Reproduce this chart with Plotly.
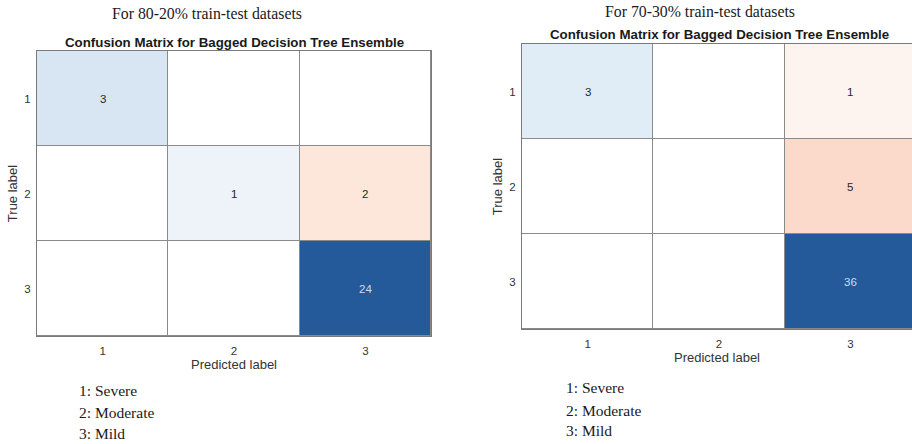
import plotly.graph_objects as go

# ---- data ----
classes = [1, 2, 3]
class_names = ["Severe", "Moderate", "Mild"]
cm_80_20 = [[3, 0, 0],
            [0, 1, 2],
            [0, 0, 24]]
cm_70_30 = [[3, 0, 1],
            [0, 0, 5],
            [0, 0, 36]]
panel_titles = ["For 80-20% train-test datasets", "For 70-30% train-test datasets"]
chart_title = "Confusion Matrix for Bagged Decision Tree Ensemble"

# diverging scale: off-diagonal (orange/red) <- 0 -> diagonal (blue)
colorscale = [
    [0.0, "#a5301f"],
    [0.4306, "#fcdacb"],
    [0.4583, "#fde6da"],
    [0.4861, "#fef4ef"],
    [0.5, "#ffffff"],
    [0.5208, "#eef3f9"],
    [0.5417, "#e0edf7"],
    [0.5625, "#d8e5f3"],
    [1.0, "#245a9a"],
]

W, H = 912, 444
def px_x(p):
    return p / W
def px_y(p):
    return 1 - p / H

fig = go.Figure()
annotations = []
panels = [
    dict(cm=cm_80_20, xd=[px_x(37), px_x(431)], yd=[px_y(336), px_y(51)], xr=[0.5, 3.5],
         xa="x", ya="y", sup_y=13, sup_x=207, title_y=42, cx=234, legend_x=77, legend_y=[390, 412, 433]),
    dict(cm=cm_70_30, xd=[px_x(522), 1.0], yd=[px_y(329), px_y(44)], xr=[0.5, 3.5 - 4 / 131],
         xa="x2", ya="y2", sup_y=12, sup_x=700, title_y=35, cx=719, legend_x=564, legend_y=[387, 410, 430]),
]

for k, p in enumerate(panels):
    cm = p["cm"]
    vmax = max(max(r) for r in cm)
    z = [[(cm[i][j] / vmax) * (1 if i == j else -1) for j in range(3)] for i in range(3)]
    fig.add_trace(go.Heatmap(
        x=classes, y=classes, z=z, zmin=-1, zmax=1, colorscale=colorscale,
        showscale=False, xgap=1, ygap=1, hoverinfo="skip",
        xaxis=p["xa"], yaxis=p["ya"],
    ))
    for i in range(3):
        for j in range(3):
            v = cm[i][j]
            if v == 0:
                continue
            light = abs(z[i][j]) > 0.5
            annotations.append(dict(
                x=classes[j], y=classes[i], xref=p["xa"], yref=p["ya"],
                text=str(v), showarrow=False,
                font=dict(family="Liberation Sans, Arial", size=11.5,
                          color="#c8dcf0" if light else "#262626"),
            ))
    sfx = "" if k == 0 else "2"
    fig.layout["xaxis" + sfx] = dict(
        domain=p["xd"], range=p["xr"], anchor=p["ya"],
        tickvals=classes, ticktext=[str(c) for c in classes],
        showgrid=False, zeroline=False, showline=True, mirror=True,
        linecolor="#7a7a7a", linewidth=1, ticks="", ticklabelstandoff=4,
        tickfont=dict(family="Liberation Sans, Arial", size=11.5, color="#333333"),
        title=dict(text="Predicted label", standoff=4,
                   font=dict(family="Liberation Sans, Arial", size=13, color="#333333")),
    )
    fig.layout["yaxis" + sfx] = dict(
        domain=p["yd"], range=[3.5, 0.5], anchor=p["xa"],
        tickvals=classes, ticktext=[str(c) for c in classes],
        showgrid=False, zeroline=False, showline=True, mirror=(k == 0),
        linecolor="#7a7a7a", linewidth=1, ticks="", ticklabelstandoff=3,
        tickfont=dict(family="Liberation Sans, Arial", size=11.5, color="#333333"),
        title=dict(text="True label", standoff=3,
                   font=dict(family="Liberation Sans, Arial", size=13, color="#333333")),
    )
    annotations.append(dict(
        x=px_x(p["sup_x"]), y=px_y(p["sup_y"]), xref="paper", yref="paper",
        text=panel_titles[k], showarrow=False, xanchor="center", yanchor="middle",
        font=dict(family="Liberation Serif, Times New Roman", size=15.8, color="#1a1a1a"),
    ))
    annotations.append(dict(
        x=px_x(p["cx"]), y=px_y(p["title_y"]), xref="paper", yref="paper",
        text="<b>" + chart_title + "</b>", showarrow=False, xanchor="center", yanchor="middle",
        font=dict(family="Liberation Sans, Arial", size=13.3, color="#1a1a1a"),
    ))
    for c, name, ly in zip(classes, class_names, p["legend_y"]):
        annotations.append(dict(
            x=px_x(p["legend_x"]), y=px_y(ly), xref="paper", yref="paper",
            text=f"{c}: {name}", showarrow=False, xanchor="left", yanchor="middle",
            font=dict(family="Liberation Serif, Times New Roman", size=15.5, color="#1a1a1a"),
        ))

fig.update_layout(
    width=W, height=H, margin=dict(l=0, r=0, t=0, b=0),
    paper_bgcolor="white", plot_bgcolor="#8a8a8a",
    annotations=annotations, showlegend=False,
)

fig.write_html(
    "out.html",
    config={"displayModeBar": False},
    post_script="document.body.style.margin='0';document.body.style.overflow='hidden';",
)
